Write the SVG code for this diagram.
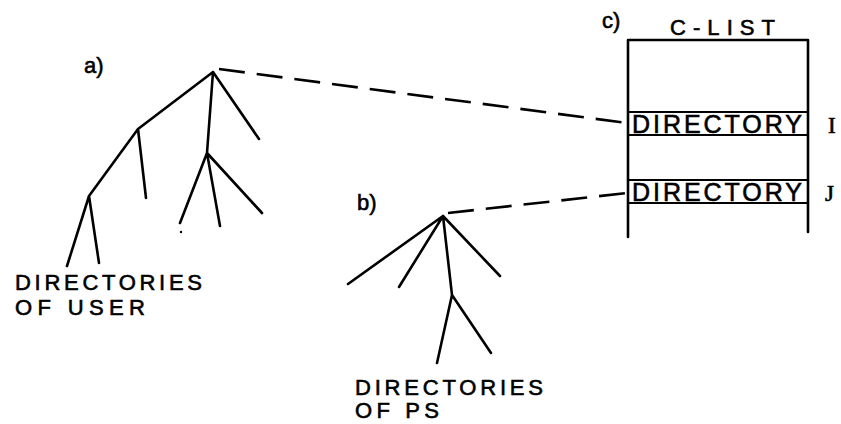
<svg xmlns="http://www.w3.org/2000/svg" width="841" height="424" viewBox="0 0 841 424">
<style>
.ln{stroke:#000;stroke-width:2.6;fill:none;stroke-linecap:round;stroke-linejoin:round}
.dash{stroke:#000;stroke-width:2.6;fill:none;stroke-dasharray:26 12}
.t{font-family:"Liberation Sans",Arial,sans-serif;fill:#000;font-size:22px;stroke:#000;stroke-width:0.6}
.s{font-family:"Liberation Serif","Times New Roman",serif;fill:#000;font-size:23px;stroke:#000;stroke-width:0.6}
</style>
<rect width="841" height="424" fill="#fff"/>
<g id="tree-a">
<text class="t" x="84" y="73">a)</text>
<path class="ln" d="M213,72 L138,129 L89,196 L67,266 M89,196 L99,263 M138,129 L146,198 M213,72 L259,139 M213,72 L207,153 L180,223 M207,153 L220,226 M207,153 L262,213"/>
<circle cx="181" cy="232" r="1.2" fill="#000"/>
<text class="t" x="15" y="290" textLength="187" lengthAdjust="spacing">DIRECTORIES</text>
<text class="t" x="15" y="315" textLength="130" lengthAdjust="spacing">OF USER</text>
</g>
<g id="tree-b">
<text class="t" x="357" y="210">b)</text>
<path class="ln" d="M443,216 L348,284 M443,216 L399,287 M443,216 L500,276 M443,216 L452,295 L437,363 M452,295 L491,353"/>
<text class="t" x="355" y="395" textLength="188" lengthAdjust="spacing">DIRECTORIES</text>
<text class="t" x="355" y="418" textLength="84" lengthAdjust="spacing">OF PS</text>
</g>
<g id="c-list">
<text class="t" x="602" y="28">c)</text>
<text class="t" x="670" y="35" textLength="105" lengthAdjust="spacing">C-LIST</text>
<path class="ln" d="M628,40 L808,40 M628,40 L628,237 M808,40 L808,232"/>
<path class="ln" style="stroke-width:2.2" d="M628,112 L808,112 M628,135 L808,135 M628,180 L808,180 M628,203 L808,203"/>
<text class="t" x="632" y="133" style="font-size:25px" textLength="170" lengthAdjust="spacing">DIRECTORY</text>
<text class="t" x="632" y="201" style="font-size:25px" textLength="170" lengthAdjust="spacing">DIRECTORY</text>
<text class="s" x="828" y="133">I</text>
<text class="s" x="825" y="201">J</text>
</g>
<g id="connectors">
<path class="dash" d="M219,69 L627,123"/>
<path class="dash" d="M448,213 L627,193"/>
</g>
</svg>
